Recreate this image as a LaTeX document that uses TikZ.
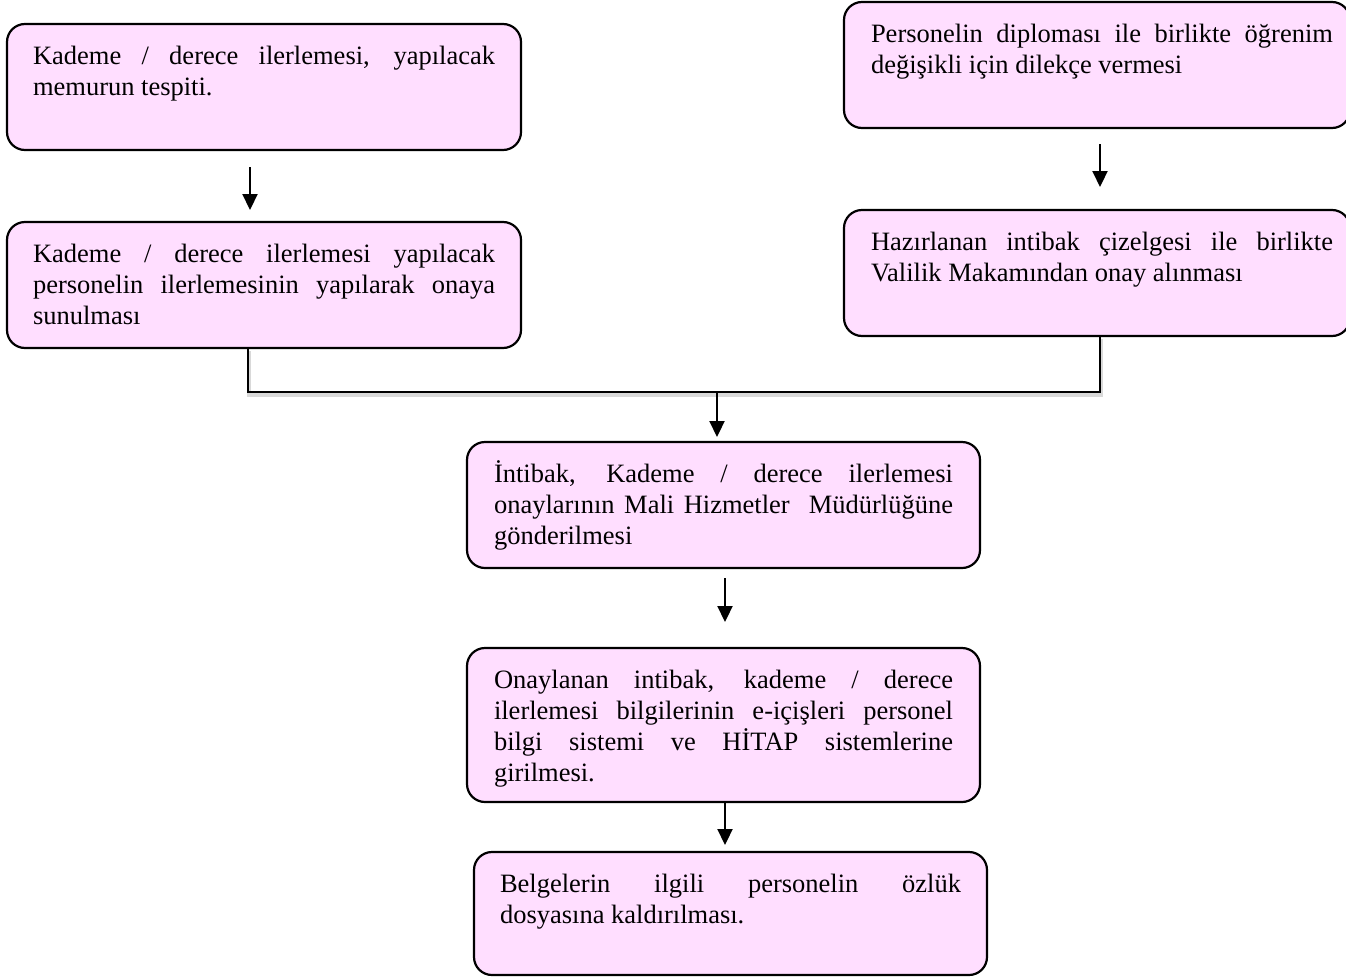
\documentclass[tikz,border=0pt]{standalone}
\usepackage{fontspec}
\setmainfont{Liberation Serif}
\usetikzlibrary{arrows.meta}
\definecolor{boxpink}{RGB}{255,222,255}
\hyphenpenalty=10000
\exhyphenpenalty=10000
\tolerance=10000
\newcommand\boxtext[5]{\hspace*{#1}\parbox[t][#3][t]{#4}{\rule{0pt}{40pt}#5}\hspace*{#2}}
\tikzset{
  flowbox/.style={draw, line width=2.2pt, rounded corners=18pt, fill=boxpink,
    inner sep=0pt, outer sep=0pt, anchor=north west,
    font=\fontsize{26.5pt}{31pt}\selectfont},
  arr/.style={line width=2.2pt, -{Triangle[width=15pt,length=16pt]}},
  joinline/.style={line width=2.2pt},
  joinshadow/.style={line width=4pt, draw=black!15}
}
\begin{document}
\begin{tikzpicture}[x=1pt,y=1pt]
\useasboundingbox (0,0) rectangle (1346,-977);

\node[flowbox] (b1) at (7,-24) {\boxtext{26pt}{26pt}{126pt}{462pt}{Kademe / derece ilerlemesi, yapılacak\linebreak memurun tespiti.}};
\node[flowbox] (b2) at (844,-2) {\boxtext{27pt}{17pt}{126pt}{462pt}{Personelin diploması ile birlikte öğrenim\linebreak değişikli için dilekçe vermesi}};
\node[flowbox] (b3) at (7,-222) {\boxtext{26pt}{26pt}{126pt}{462pt}{Kademe / derece ilerlemesi yapılacak\linebreak personelin ilerlemesinin yapılarak onaya\linebreak sunulması}};
\node[flowbox] (b4) at (844,-210) {\boxtext{27pt}{17pt}{126pt}{462pt}{Hazırlanan intibak çizelgesi ile birlikte\linebreak Valilik Makamından onay alınması}};
\node[flowbox] (b5) at (467,-442) {\boxtext{27pt}{27pt}{126pt}{459pt}{İntibak, Kademe / derece ilerlemesi\linebreak onaylarının Mali Hizmetler\ \ Müdürlüğüne\linebreak gönderilmesi}};
\node[flowbox] (b6) at (467,-648) {\boxtext{27pt}{27pt}{154pt}{459pt}{Onaylanan intibak, kademe / derece\linebreak ilerlemesi bilgilerinin e-içişleri personel\linebreak bilgi sistemi ve HİTAP sistemlerine\linebreak girilmesi.}};
\node[flowbox] (b7) at (474,-852) {\boxtext{26pt}{26pt}{123pt}{461pt}{Belgelerin ilgili personelin özlük\linebreak dosyasına kaldırılması.}};

% arrow columns
\coordinate (xa) at (250,0);
\coordinate (xb) at (1100,0);
\coordinate (xl) at (248,0);
\coordinate (xm) at (717,0);
\coordinate (xn) at (725,0);
\coordinate (yj) at (0,-392);
\coordinate (jl) at (xl |- yj);
\coordinate (jr) at (xb |- yj);
\coordinate (jm) at (xm |- yj);

\draw[arr, shorten <=17pt, shorten >=12pt] (b1.south -| xa) -- (b3.north -| xa);
\draw[arr, shorten <=16pt, shorten >=23pt] (b2.south -| xb) -- (b4.north -| xb);

\draw[joinshadow] ([shift={(1pt,-3pt)}]b3.south -| xl) -- ([shift={(1pt,-3pt)}]jl) -- ([shift={(1pt,-3pt)}]jr) -- ([shift={(1pt,-3pt)}]b4.south -| xb);
\draw[joinline] (b3.south -| xl) -- (jl) -- (jr) -- (b4.south -| xb);
\draw[arr, shorten >=5pt] (jm) -- (b5.north -| xm);

\draw[arr, shorten <=10pt, shorten >=26pt] (b5.south -| xn) -- (b6.north -| xn);
\draw[arr, shorten >=7pt] (b6.south -| xn) -- (b7.north -| xn);
\end{tikzpicture}
\end{document}
